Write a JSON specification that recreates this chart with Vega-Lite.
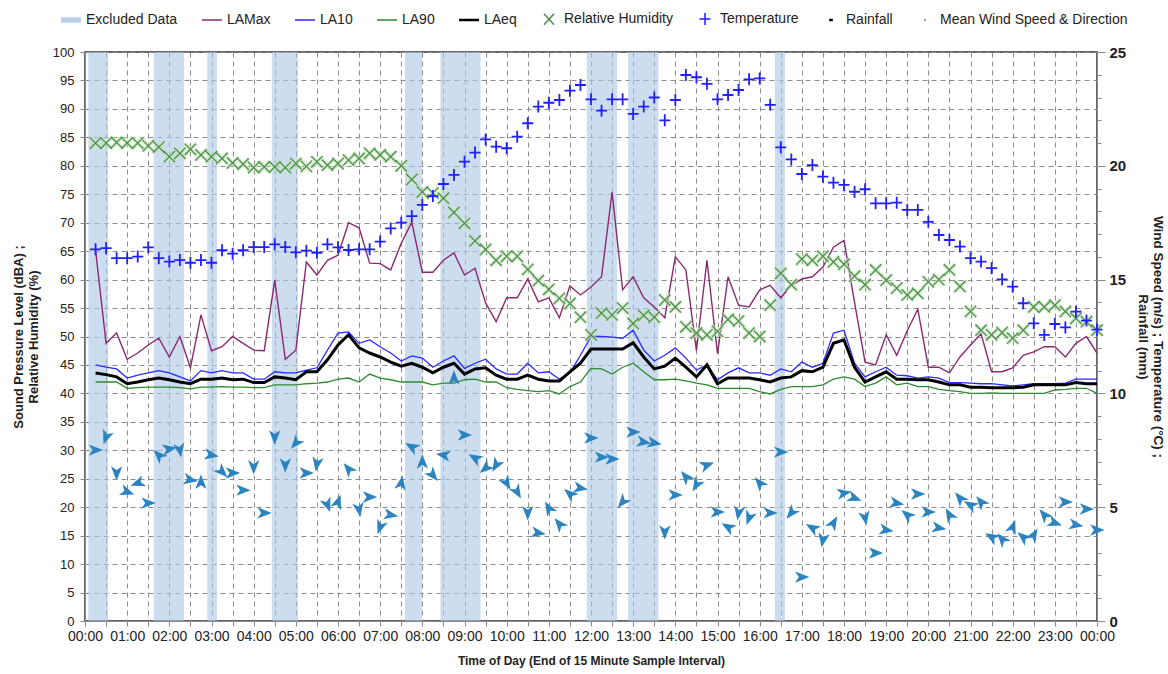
{
"$schema": "https://vega.github.io/schema/vega-lite/v6.json",
"width": 1012, "height": 569,
"autosize": {"type": "none"},
"padding": {"left": 85, "top": 52, "right": 71, "bottom": 53},
"background": "white",
"config": {
  "font": "Liberation Sans",
  "view": {"stroke": "#333333", "strokeWidth": 1.5},
  "axis": {"domainColor": "#8a8a8a", "tickColor": "#8a8a8a", "labelColor": "#222222", "titleColor": "#222222"}
},
"datasets": {
  "bands": [
    {"t": 0.08, "t2": 0.55}, {"t": 1.63, "t2": 2.35}, {"t": 2.9, "t2": 3.13},
    {"t": 4.43, "t2": 5.05}, {"t": 7.59, "t2": 7.99}, {"t": 8.43, "t2": 9.38},
    {"t": 11.9, "t2": 12.62}, {"t": 12.88, "t2": 13.6}, {"t": 16.36, "t2": 16.6}
  ],
  "obs": [
    {"t":0.25,"lamax":65.2,"la10":45.0,"la90":42.0,"laeq":43.6,"rh":84.0,"temp":16.33,"ws":7.51,"wd":90},
    {"t":0.5,"lamax":48.8,"la10":44.6,"la90":42.0,"laeq":43.3,"rh":84.0,"temp":16.38,"ws":8.08,"wd":200},
    {"t":0.75,"lamax":50.6,"la10":44.3,"la90":42.0,"laeq":42.9,"rh":84.1,"temp":15.94,"ws":6.5,"wd":180},
    {"t":1,"lamax":46.0,"la10":42.7,"la90":40.9,"laeq":41.7,"rh":84.0,"temp":15.94,"ws":5.67,"wd":110},
    {"t":1.25,"lamax":47.1,"la10":43.2,"la90":41.0,"laeq":42.0,"rh":84.0,"temp":16.01,"ws":6.06,"wd":250},
    {"t":1.5,"lamax":48.5,"la10":43.6,"la90":41.1,"laeq":42.4,"rh":83.5,"temp":16.42,"ws":5.18,"wd":90},
    {"t":1.75,"lamax":49.7,"la10":44.0,"la90":41.1,"laeq":42.7,"rh":83.3,"temp":15.94,"ws":7.29,"wd":315},
    {"t":2,"lamax":46.4,"la10":43.6,"la90":41.1,"laeq":42.4,"rh":81.6,"temp":15.79,"ws":7.56,"wd":80},
    {"t":2.25,"lamax":50.0,"la10":42.9,"la90":41.0,"laeq":42.0,"rh":82.2,"temp":15.86,"ws":7.51,"wd":170},
    {"t":2.5,"lamax":44.5,"la10":42.2,"la90":40.8,"laeq":41.7,"rh":82.9,"temp":15.74,"ws":6.2,"wd":100},
    {"t":2.75,"lamax":53.8,"la10":44.0,"la90":41.1,"laeq":42.5,"rh":81.9,"temp":15.86,"ws":6.1,"wd":0},
    {"t":3,"lamax":47.5,"la10":43.6,"la90":41.1,"laeq":42.5,"rh":81.6,"temp":15.74,"ws":7.29,"wd":100},
    {"t":3.25,"lamax":48.2,"la10":44.0,"la90":41.2,"laeq":42.7,"rh":81.3,"temp":16.29,"ws":6.55,"wd":135},
    {"t":3.5,"lamax":50.0,"la10":43.6,"la90":41.1,"laeq":42.4,"rh":80.5,"temp":16.14,"ws":6.5,"wd":90},
    {"t":3.75,"lamax":48.8,"la10":43.6,"la90":41.1,"laeq":42.5,"rh":80.3,"temp":16.29,"ws":5.75,"wd":90},
    {"t":4,"lamax":47.6,"la10":42.5,"la90":41.0,"laeq":41.9,"rh":79.7,"temp":16.43,"ws":6.77,"wd":180},
    {"t":4.25,"lamax":47.5,"la10":42.5,"la90":41.0,"laeq":41.9,"rh":79.8,"temp":16.43,"ws":4.75,"wd":90},
    {"t":4.5,"lamax":59.9,"la10":43.8,"la90":41.5,"laeq":42.9,"rh":79.8,"temp":16.55,"ws":8.08,"wd":180},
    {"t":4.75,"lamax":46.0,"la10":43.6,"la90":41.5,"laeq":42.7,"rh":79.7,"temp":16.43,"ws":6.85,"wd":180},
    {"t":5,"lamax":47.6,"la10":43.6,"la90":41.5,"laeq":42.4,"rh":80.4,"temp":16.2,"ws":7.82,"wd":220},
    {"t":5.25,"lamax":63.1,"la10":44.1,"la90":41.7,"laeq":43.8,"rh":79.9,"temp":16.27,"ws":6.5,"wd":90},
    {"t":5.5,"lamax":60.8,"la10":44.5,"la90":41.8,"laeq":43.8,"rh":80.7,"temp":16.18,"ws":6.9,"wd":190},
    {"t":5.75,"lamax":63.4,"la10":47.6,"la90":42.0,"laeq":45.9,"rh":80.1,"temp":16.55,"ws":5.1,"wd":160},
    {"t":6,"lamax":64.3,"la10":50.6,"la90":42.5,"laeq":48.5,"rh":80.4,"temp":16.42,"ws":5.23,"wd":20},
    {"t":6.25,"lamax":70.0,"la10":50.8,"la90":42.7,"laeq":50.3,"rh":81.0,"temp":16.3,"ws":6.68,"wd":320},
    {"t":6.5,"lamax":69.1,"la10":48.8,"la90":42.0,"laeq":48.0,"rh":81.3,"temp":16.33,"ws":4.9,"wd":170},
    {"t":6.75,"lamax":62.9,"la10":49.4,"la90":43.4,"laeq":47.1,"rh":82.2,"temp":16.33,"ws":5.45,"wd":90},
    {"t":7,"lamax":62.8,"la10":48.2,"la90":42.7,"laeq":46.4,"rh":81.9,"temp":16.67,"ws":4.13,"wd":200},
    {"t":7.25,"lamax":61.7,"la10":47.1,"la90":42.4,"laeq":45.5,"rh":81.6,"temp":17.25,"ws":4.66,"wd":100},
    {"t":7.5,"lamax":66.4,"la10":45.7,"la90":42.0,"laeq":44.8,"rh":80.0,"temp":17.5,"ws":6.06,"wd":10},
    {"t":7.75,"lamax":70.1,"la10":46.6,"la90":42.0,"laeq":45.3,"rh":77.6,"temp":17.79,"ws":7.65,"wd":300},
    {"t":8,"lamax":61.3,"la10":46.2,"la90":42.0,"laeq":44.6,"rh":75.4,"temp":18.28,"ws":6.99,"wd":0},
    {"t":8.25,"lamax":61.3,"la10":44.6,"la90":41.5,"laeq":43.6,"rh":75.2,"temp":18.67,"ws":6.41,"wd":140},
    {"t":8.5,"lamax":63.4,"la10":45.7,"la90":41.8,"laeq":44.6,"rh":74.3,"temp":19.2,"ws":7.29,"wd":280},
    {"t":8.75,"lamax":64.7,"la10":46.6,"la90":41.8,"laeq":45.3,"rh":71.8,"temp":19.6,"ws":10.68,"wd":0},
    {"t":9,"lamax":60.8,"la10":44.4,"la90":42.4,"laeq":43.4,"rh":69.9,"temp":20.18,"ws":8.17,"wd":90},
    {"t":9.25,"lamax":62.0,"la10":45.3,"la90":42.5,"laeq":44.3,"rh":66.8,"temp":20.58,"ws":7.16,"wd":300},
    {"t":9.5,"lamax":55.9,"la10":46.0,"la90":42.0,"laeq":44.5,"rh":65.3,"temp":21.16,"ws":6.72,"wd":230},
    {"t":9.75,"lamax":52.6,"la10":44.3,"la90":42.0,"laeq":43.2,"rh":63.4,"temp":20.84,"ws":6.85,"wd":210},
    {"t":10,"lamax":56.8,"la10":43.4,"la90":41.0,"laeq":42.5,"rh":64.1,"temp":20.77,"ws":6.06,"wd":150},
    {"t":10.25,"lamax":56.8,"la10":43.4,"la90":40.7,"laeq":42.5,"rh":64.1,"temp":21.28,"ws":5.67,"wd":150},
    {"t":10.5,"lamax":60.1,"la10":45.3,"la90":40.5,"laeq":43.2,"rh":61.8,"temp":21.87,"ws":4.75,"wd":180},
    {"t":10.75,"lamax":56.1,"la10":43.6,"la90":40.3,"laeq":42.5,"rh":59.8,"temp":22.6,"ws":3.87,"wd":100},
    {"t":11,"lamax":56.8,"la10":43.8,"la90":40.5,"laeq":42.2,"rh":58.3,"temp":22.77,"ws":4.96,"wd":330},
    {"t":11.25,"lamax":53.3,"la10":42.5,"la90":39.9,"laeq":42.2,"rh":56.7,"temp":22.89,"ws":4.26,"wd":320},
    {"t":11.5,"lamax":58.9,"la10":43.6,"la90":41.2,"laeq":43.8,"rh":55.8,"temp":23.3,"ws":5.58,"wd":310},
    {"t":11.75,"lamax":57.3,"la10":46.7,"la90":42.0,"laeq":45.3,"rh":53.4,"temp":23.55,"ws":5.84,"wd":100},
    {"t":12,"lamax":58.7,"la10":50.0,"la90":44.4,"laeq":47.8,"rh":50.3,"temp":22.92,"ws":8.04,"wd":90},
    {"t":12.25,"lamax":60.5,"la10":50.0,"la90":44.3,"laeq":47.8,"rh":54.1,"temp":22.42,"ws":7.2,"wd":90},
    {"t":12.5,"lamax":75.4,"la10":49.9,"la90":43.4,"laeq":47.8,"rh":53.8,"temp":22.92,"ws":7.12,"wd":90},
    {"t":12.75,"lamax":58.2,"la10":49.7,"la90":44.6,"laeq":47.8,"rh":55.0,"temp":22.92,"ws":5.23,"wd":220},
    {"t":13,"lamax":60.5,"la10":51.1,"la90":45.3,"laeq":48.9,"rh":52.3,"temp":22.28,"ws":8.3,"wd":90},
    {"t":13.25,"lamax":56.8,"la10":47.6,"la90":43.8,"laeq":46.4,"rh":53.7,"temp":22.6,"ws":7.86,"wd":100},
    {"t":13.5,"lamax":55.2,"la10":45.7,"la90":42.4,"laeq":44.3,"rh":53.4,"temp":23.0,"ws":7.82,"wd":100},
    {"t":13.75,"lamax":53.3,"la10":46.7,"la90":42.4,"laeq":44.8,"rh":56.4,"temp":22.0,"ws":3.91,"wd":180},
    {"t":14,"lamax":64.0,"la10":48.0,"la90":42.5,"laeq":46.2,"rh":55.2,"temp":22.89,"ws":5.54,"wd":90},
    {"t":14.25,"lamax":61.7,"la10":46.2,"la90":42.2,"laeq":44.6,"rh":51.7,"temp":23.99,"ws":6.33,"wd":320},
    {"t":14.5,"lamax":47.5,"la10":44.1,"la90":41.8,"laeq":42.9,"rh":50.6,"temp":23.89,"ws":5.98,"wd":210},
    {"t":14.75,"lamax":63.4,"la10":45.0,"la90":41.5,"laeq":45.0,"rh":50.3,"temp":23.6,"ws":6.85,"wd":70},
    {"t":15,"lamax":47.0,"la10":42.4,"la90":40.9,"laeq":41.7,"rh":50.9,"temp":22.92,"ws":4.79,"wd":90},
    {"t":15.25,"lamax":60.5,"la10":43.6,"la90":40.9,"laeq":42.7,"rh":53.0,"temp":23.11,"ws":4.13,"wd":300},
    {"t":15.5,"lamax":55.5,"la10":44.5,"la90":40.9,"laeq":42.7,"rh":52.7,"temp":23.33,"ws":4.75,"wd":190},
    {"t":15.75,"lamax":55.2,"la10":43.6,"la90":40.9,"laeq":42.7,"rh":50.6,"temp":23.8,"ws":4.53,"wd":200},
    {"t":16,"lamax":58.2,"la10":43.6,"la90":40.3,"laeq":42.4,"rh":50.0,"temp":23.84,"ws":6.06,"wd":320},
    {"t":16.25,"lamax":59.0,"la10":43.2,"la90":39.9,"laeq":42.0,"rh":55.5,"temp":22.68,"ws":4.75,"wd":90},
    {"t":16.5,"lamax":56.8,"la10":44.3,"la90":40.7,"laeq":42.7,"rh":61.1,"temp":20.81,"ws":7.42,"wd":90},
    {"t":16.75,"lamax":59.0,"la10":43.8,"la90":41.2,"laeq":42.9,"rh":59.1,"temp":20.28,"ws":4.75,"wd":220},
    {"t":17,"lamax":60.1,"la10":45.5,"la90":41.2,"laeq":44.0,"rh":63.6,"temp":19.64,"ws":1.93,"wd":90},
    {"t":17.25,"lamax":60.5,"la10":44.6,"la90":41.2,"laeq":43.8,"rh":63.4,"temp":20.03,"ws":4.09,"wd":300},
    {"t":17.5,"lamax":62.2,"la10":45.3,"la90":41.5,"laeq":44.6,"rh":64.1,"temp":19.52,"ws":3.56,"wd":190},
    {"t":17.75,"lamax":65.7,"la10":50.6,"la90":42.5,"laeq":48.8,"rh":63.1,"temp":19.26,"ws":4.31,"wd":30},
    {"t":18,"lamax":66.9,"la10":51.1,"la90":42.9,"laeq":49.4,"rh":62.7,"temp":19.16,"ws":5.62,"wd":80},
    {"t":18.25,"lamax":56.0,"la10":45.3,"la90":42.5,"laeq":44.6,"rh":60.6,"temp":18.86,"ws":5.4,"wd":110},
    {"t":18.5,"lamax":45.5,"la10":42.9,"la90":41.2,"laeq":42.0,"rh":59.1,"temp":18.97,"ws":4.53,"wd":170},
    {"t":18.75,"lamax":45.0,"la10":43.8,"la90":41.8,"laeq":42.9,"rh":61.7,"temp":18.35,"ws":2.99,"wd":90},
    {"t":19,"lamax":50.3,"la10":44.6,"la90":42.9,"laeq":43.8,"rh":59.9,"temp":18.35,"ws":4.0,"wd":100},
    {"t":19.25,"lamax":46.7,"la10":43.2,"la90":41.5,"laeq":42.5,"rh":58.5,"temp":18.38,"ws":5.18,"wd":100},
    {"t":19.5,"lamax":51.0,"la10":43.1,"la90":41.8,"laeq":42.5,"rh":57.3,"temp":18.06,"ws":4.66,"wd":310},
    {"t":19.75,"lamax":54.8,"la10":42.7,"la90":41.2,"laeq":42.4,"rh":57.6,"temp":18.06,"ws":5.58,"wd":90},
    {"t":20,"lamax":44.6,"la10":42.9,"la90":41.2,"laeq":42.4,"rh":59.6,"temp":17.54,"ws":4.79,"wd":90},
    {"t":20.25,"lamax":44.6,"la10":42.7,"la90":40.7,"laeq":42.0,"rh":60.0,"temp":16.96,"ws":4.09,"wd":100},
    {"t":20.5,"lamax":43.6,"la10":41.9,"la90":40.5,"laeq":41.5,"rh":61.7,"temp":16.74,"ws":4.66,"wd":330},
    {"t":20.75,"lamax":46.4,"la10":41.9,"la90":40.3,"laeq":41.5,"rh":58.8,"temp":16.45,"ws":5.4,"wd":320},
    {"t":21,"lamax":48.5,"la10":41.8,"la90":40.0,"laeq":41.1,"rh":54.4,"temp":15.94,"ws":5.1,"wd":300},
    {"t":21.25,"lamax":50.5,"la10":41.7,"la90":40.0,"laeq":41.1,"rh":51.1,"temp":15.79,"ws":5.23,"wd":320},
    {"t":21.5,"lamax":43.8,"la10":41.7,"la90":40.1,"laeq":41.0,"rh":50.3,"temp":15.5,"ws":3.69,"wd":300},
    {"t":21.75,"lamax":43.8,"la10":41.5,"la90":40.0,"laeq":41.0,"rh":50.7,"temp":15.01,"ws":3.6,"wd":320},
    {"t":22,"lamax":44.5,"la10":41.3,"la90":40.0,"laeq":41.0,"rh":49.7,"temp":14.69,"ws":4.13,"wd":20},
    {"t":22.25,"lamax":46.7,"la10":41.5,"la90":40.0,"laeq":41.1,"rh":51.1,"temp":13.96,"ws":3.69,"wd":310},
    {"t":22.5,"lamax":47.3,"la10":41.7,"la90":40.0,"laeq":41.5,"rh":55.2,"temp":13.08,"ws":3.78,"wd":30},
    {"t":22.75,"lamax":48.2,"la10":41.7,"la90":40.0,"laeq":41.5,"rh":55.2,"temp":12.57,"ws":4.66,"wd":320},
    {"t":23,"lamax":48.2,"la10":41.7,"la90":40.6,"laeq":41.5,"rh":55.5,"temp":13.05,"ws":4.31,"wd":110},
    {"t":23.25,"lamax":46.4,"la10":41.8,"la90":40.7,"laeq":41.5,"rh":54.4,"temp":12.9,"ws":5.23,"wd":90},
    {"t":23.5,"lamax":48.8,"la10":42.5,"la90":40.9,"laeq":41.9,"rh":53.2,"temp":13.59,"ws":4.22,"wd":100},
    {"t":23.75,"lamax":50.0,"la10":42.5,"la90":40.9,"laeq":41.7,"rh":52.6,"temp":13.2,"ws":4.92,"wd":90},
    {"t":24,"lamax":47.1,"la10":42.5,"la90":40.0,"laeq":41.7,"rh":51.1,"temp":12.8,"ws":4.0,"wd":90}
  ]
},
"encoding": {
  "x": {"field": "t", "type": "quantitative", "scale": {"domain": [0, 24], "nice": false, "zero": false},
    "axis": {
      "values": [0,0.5,1,1.5,2,2.5,3,3.5,4,4.5,5,5.5,6,6.5,7,7.5,8,8.5,9,9.5,10,10.5,11,11.5,12,12.5,13,13.5,14,14.5,15,15.5,16,16.5,17,17.5,18,18.5,19,19.5,20,20.5,21,21.5,22,22.5,23,23.5,24],
      "labelExpr": "datum.value % 1 == 0 ? (((datum.value % 24) < 10 ? '0' : '') + (datum.value % 24) + ':00') : ''",
      "labelOverlap": false, "labelFlush": false,
      "labelFontSize": 14, "labelPadding": 3, "tickSize": 5,
      "grid": true, "gridColor": "#8c8c8c", "gridDash": [5, 4], "gridWidth": 1, "gridOpacity": 1,
      "title": "Time of Day (End of 15 Minute Sample Interval)",
      "titleFontSize": 12, "titleFontWeight": "bold", "titlePadding": 12
    }}
},
"layer": [
  {
    "data": {"name": "bands"},
    "mark": {"type": "rect", "color": "#aac7e4", "opacity": 0.6},
    "encoding": {"x2": {"field": "t2"}}
  },
  {
    "data": {"name": "obs"},
    "mark": {"type": "line", "color": "#8b2a6f", "strokeWidth": 1.4},
    "encoding": {
      "y": {"field": "lamax", "type": "quantitative", "scale": {"domain": [0, 100], "nice": false},
        "axis": {
          "orient": "left",
          "values": [0,5,10,15,20,25,30,35,40,45,50,55,60,65,70,75,80,85,90,95,100],
          "labelFontSize": 13, "labelPadding": 6, "tickSize": 5,
          "grid": true, "gridColor": "#8c8c8c", "gridDash": [5, 4], "gridWidth": 1, "gridOpacity": 1,
          "title": ["Sound Pressure Level (dBA) ;", "Relative Humidity (%)"],
          "titleFontSize": 13, "titleFontWeight": "bold", "titlePadding": 12, "titleLineHeight": 15
        }}
    }
  },
  {
    "data": {"name": "obs"},
    "mark": {"type": "line", "color": "#2a2aff", "strokeWidth": 1.3},
    "encoding": {"y": {"field": "la10", "type": "quantitative", "scale": {"domain": [0, 100], "nice": false}, "axis": null}}
  },
  {
    "data": {"name": "obs"},
    "mark": {"type": "line", "color": "#2e8a2e", "strokeWidth": 1.3},
    "encoding": {"y": {"field": "la90", "type": "quantitative", "scale": {"domain": [0, 100], "nice": false}, "axis": null}}
  },
  {
    "data": {"name": "obs"},
    "mark": {"type": "line", "color": "#000000", "strokeWidth": 3},
    "encoding": {"y": {"field": "laeq", "type": "quantitative", "scale": {"domain": [0, 100], "nice": false}, "axis": null}}
  },
  {
    "data": {"name": "obs"},
    "mark": {"type": "point", "shape": "M-1,-1L1,1M-1,1L1,-1", "filled": false, "size": 130, "strokeWidth": 4, "color": "#c4e6b8", "opacity": 0.7},
    "encoding": {"y": {"field": "rh", "type": "quantitative", "scale": {"domain": [0, 100], "nice": false}, "axis": null}}
  },
  {
    "data": {"name": "obs"},
    "mark": {"type": "point", "shape": "M-1,-1L1,1M-1,1L1,-1", "filled": false, "size": 130, "strokeWidth": 1.2, "color": "#4a8a4a", "opacity": 1},
    "encoding": {"y": {"field": "rh", "type": "quantitative", "scale": {"domain": [0, 100], "nice": false}, "axis": null}}
  },
  {
    "data": {"name": "obs"},
    "mark": {"type": "point", "filled": false, "size": 400, "strokeWidth": 1.8, "opacity": 1},
    "encoding": {
      "y": {"field": "temp", "type": "quantitative", "scale": {"domain": [0, 25], "nice": false},
        "axis": {
          "orient": "right",
          "values": [0,1,2,3,4,5,6,7,8,9,10,11,12,13,14,15,16,17,18,19,20,21,22,23,24,25],
          "labelExpr": "datum.value % 5 == 0 ? datum.label : ''",
          "labelOverlap": false,
          "tickSize": {"condition": {"test": "datum.value % 5 == 0", "value": 8}, "value": 4},
          "labelFontSize": 15, "labelFontWeight": "bold", "labelPadding": 4, "grid": false,
          "title": ["Wind Speed (m/s) ; Temperature (°C) ;", "Rainfall (mm)"],
          "titleFontSize": 13.5, "titleFontWeight": "bold", "titlePadding": 10, "titleLineHeight": 15
        }},
      "color": {"datum": "Temperature",
        "scale": {"domain": ["Excluded Data","LAMax","LA10","LA90","LAeq","Relative Humidity","Temperature","Rainfall","Mean Wind Speed & Direction"],
                  "range": ["#b9d1e9","#8b2a6f","#2a2aff","#2e8a2e","#000000","#4a8a4a","#1f1fff","#000000","#555555"]},
        "legend": {"orient": "none", "legendX": -25, "legendY": -44, "direction": "horizontal", "title": null,
                   "symbolSize": 400, "symbolStrokeWidth": 1.5, "labelFontSize": 14, "labelColor": "#222222",
                   "labelOffset": 4, "columnPadding": 21, "labelLimit": 400}},
      "shape": {"datum": "Temperature",
        "scale": {"domain": ["Excluded Data","LAMax","LA10","LA90","LAeq","Relative Humidity","Temperature","Rainfall","Mean Wind Speed & Direction"],
                  "range": ["M-1,-0.21H1M-1,-0.14H1M-1,-0.07H1M-1,0H1M-1,0.07H1M-1,0.14H1M-1,0.21H1","M-1,0H1","M-1,0H1","M-1,0H1","M-1,-0.06H1M-1,0H1M-1,0.06H1","M-0.5,-0.55L0.5,0.55M-0.5,0.55L0.5,-0.55","M-0.55,0H0.55M0,-0.6V0.6","M-0.18,-0.05H0.18M-0.18,0H0.18M-0.18,0.05H0.18","M-0.05,-0.05H0.05M-0.05,0H0.05M-0.05,0.05H0.05"]}}
    }
  },
  {
    "data": {"name": "obs"},
    "mark": {"type": "point", "shape": "M0,-1L0.75,0.9L0,0.4L-0.75,0.9Z", "filled": true, "color": "#2b83c0", "size": 230, "opacity": 1},
    "encoding": {
      "y": {"field": "ws", "type": "quantitative", "scale": {"domain": [0, 25], "nice": false}, "axis": null},
      "angle": {"field": "wd", "type": "quantitative", "scale": null}
    }
  }
],
"resolve": {"scale": {"y": "independent"}}
}
